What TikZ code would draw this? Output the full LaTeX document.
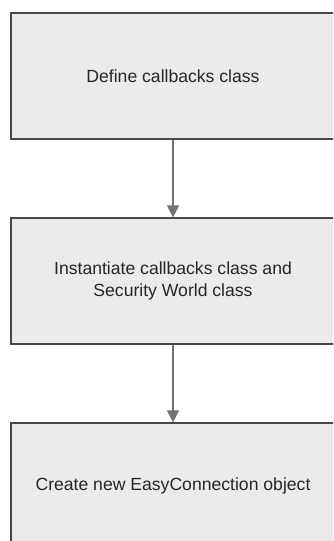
\documentclass[tikz,border=0pt]{standalone}
\usepackage{fontspec}
\setmainfont{Liberation Sans}
\usetikzlibrary{arrows.meta}
\begin{document}
\begin{tikzpicture}[x=1pt,y=-1pt,
  stepbox/.style={draw=black!72, fill=black!8, line width=1.2pt, minimum width=324pt, minimum height=126pt, align=center, inner sep=0pt, font=\fontsize{17.6}{22}\selectfont, text=black!85},
  conn/.style={draw=black!55, line width=1.1pt, -{Triangle[length=12pt,width=12pt]}}]
\useasboundingbox (0,0) rectangle (333,541);
\clip (0,0) rectangle (333,541);
\fill[white] (0,0) rectangle (333,541);
\node[stepbox] (a) at (173,76) {Define callbacks class};
\node[stepbox] (b) at (173,281) {Instantiate callbacks class and\\Security World class};
\node[stepbox] (c) at (173,486) {Create new EasyConnection object};
\draw[conn] (a) -- (b);
\draw[conn] (b) -- (c);
\end{tikzpicture}
\end{document}
